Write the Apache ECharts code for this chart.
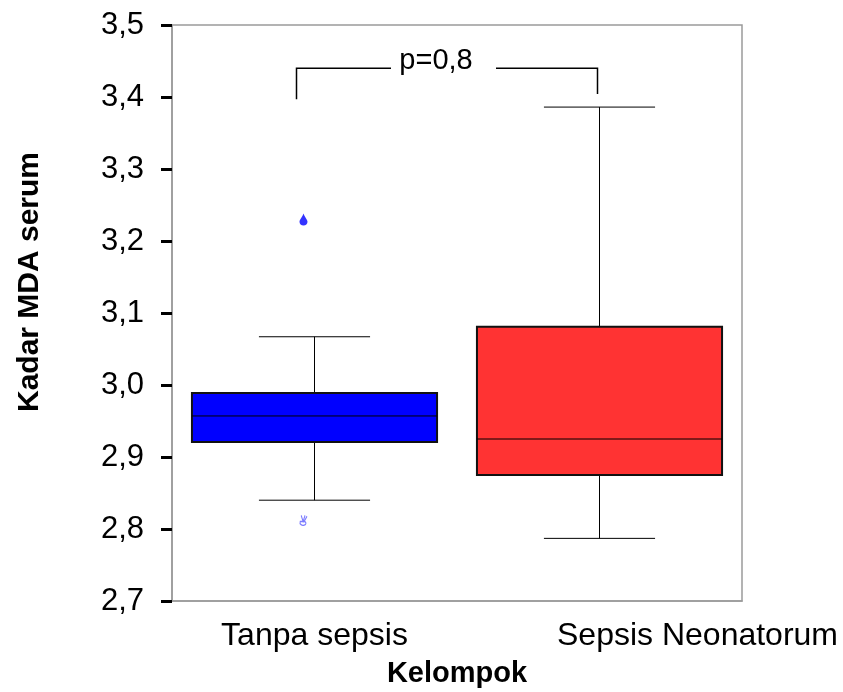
<!DOCTYPE html>
<html lang="id">
<head>
    <meta charset="UTF-8">
    <title>Kadar MDA serum</title>
    <script src="https://cdn.jsdelivr.net/npm/echarts@6/dist/echarts.min.js"></script>
    <style>
        body { margin: 0; background: #fff; }
        #container { width: 843px; height: 692px; }
    </style>
</head>
<body>
<div id="container"></div>

<script type="text/javascript">
    // data
    var categories = ['Tanpa sepsis', 'Sepsis Neonatorum'];
    var whiskerLow = [2.840, 2.787];
    var q1 = [2.921, 2.875];
    var median = [2.957, 2.925];
    var q3 = [2.989, 3.081];
    var whiskerHigh = [3.067, 3.386];
    var boxColors = ['#0000ff', '#ff3333'];
    var outlierHigh = [[0, 3.230]];
    var outlierLow = [[0, 2.812]];
    var pText = 'p=0,8';
    var yTitle = 'Kadar MDA serum';

    var font = 'Liberation Sans, Arial, sans-serif';

    var boxData = [];
    for (var i = 0; i < categories.length; i++) {
        boxData.push([i, whiskerLow[i], q1[i], median[i], q3[i], whiskerHigh[i]]);
    }

    // the second label sits to the right of its tick in the original
    var catItems = [
        { value: categories[0] },
        { value: categories[1], textStyle: { padding: [0, 0, 0, 196] } }
    ];

    function renderBox(params, api) {
        var idx = api.value(0);
        var band = api.size([1, 0])[0];
        var bw = band * 0.86;
        var cw = band * 0.39;
        var pLow = api.coord([idx, api.value(1)]);
        var pQ1 = api.coord([idx, api.value(2)]);
        var pMed = api.coord([idx, api.value(3)]);
        var pQ3 = api.coord([idx, api.value(4)]);
        var pHigh = api.coord([idx, api.value(5)]);
        var cx = pMed[0];
        var thin = { stroke: '#000', lineWidth: 1 };
        return {
            type: 'group',
            children: [
                { type: 'line', shape: { x1: cx, y1: pQ3[1], x2: cx, y2: pHigh[1] }, style: thin },
                { type: 'line', shape: { x1: cx, y1: pQ1[1], x2: cx, y2: pLow[1] }, style: thin },
                { type: 'line', shape: { x1: cx - cw / 2, y1: pHigh[1], x2: cx + cw / 2, y2: pHigh[1] }, style: thin },
                { type: 'line', shape: { x1: cx - cw / 2, y1: pLow[1], x2: cx + cw / 2, y2: pLow[1] }, style: thin },
                { type: 'rect', shape: { x: cx - bw / 2, y: pQ3[1], width: bw, height: pQ1[1] - pQ3[1] },
                  style: { fill: boxColors[idx], stroke: '#111', lineWidth: 2 } },
                { type: 'line', shape: { x1: cx - bw / 2, y1: pMed[1], x2: cx + bw / 2, y2: pMed[1] }, style: thin }
            ]
        };
    }

    var chart = echarts.init(document.getElementById('container'), null, { renderer: 'canvas' });

    var option = {
        backgroundColor: '#fff',
        animation: false,
        grid: {
            left: 172, right: 101, top: 25, bottom: 91,
            outerBoundsMode: 'none',
            containLabel: false,
            show: true, borderColor: '#9a9a9a', borderWidth: 1.5, backgroundColor: 'transparent'
        },
        xAxis: {
            type: 'category',
            data: catItems,
            name: 'Kelompok',
            nameLocation: 'middle',
            nameGap: 58,
            nameTextStyle: { fontFamily: font, fontSize: 29, fontWeight: 'bold', color: '#000' },
            axisLine: { lineStyle: { color: '#9a9a9a', width: 1.5 } },
            axisTick: { alignWithLabel: true, length: 12, lineStyle: { color: '#000', width: 4 } },
            axisLabel: { interval: 0, hideOverlap: false, fontFamily: font, fontSize: 32, color: '#000', margin: 19 },
            splitLine: { show: false }
        },
        yAxis: {
            type: 'value',
            min: 2.7,
            max: 3.5,
            interval: 0.1,
            axisLine: { show: true, lineStyle: { color: '#9a9a9a', width: 1.5 } },
            axisTick: { show: true, length: 11, lineStyle: { color: '#000', width: 3 } },
            axisLabel: {
                fontFamily: font, fontSize: 31, color: '#000', margin: 28,
                formatter: function (v) { return v.toFixed(1).replace('.', ','); }
            },
            splitLine: { show: false }
        },
        series: [
            {
                type: 'custom',
                renderItem: renderBox,
                data: boxData,
                z: 2
            },
            {
                type: 'scatter',
                data: outlierHigh,
                symbol: 'path://M5,0 C6,4 10,8 10,11 C10,14 8,16 5,16 C2,16 0,14 0,11 C0,8 4,4 5,0 Z',
                symbolSize: [8, 12],
                symbolOffset: [-11, 0],
                itemStyle: { color: '#0000ff' },
                z: 3
            },
            {
                type: 'scatter',
                data: outlierLow,
                symbol: 'path://M2,0 L4,7 L6,0 M8,1 L5,7 M1,7 C0,10 3,12 5,11 C8,10 7,7 5,7 Z',
                symbolSize: [7, 10],
                symbolOffset: [-11, 0],
                itemStyle: { color: 'transparent', borderColor: '#5a5aff', borderWidth: 1.2 },
                z: 3
            }
        ]
    };
    chart.setOption(option);

    // significance bracket and y title
    var pA = chart.convertToPixel({ gridIndex: 0 }, [0, 3.44]);
    var pB = chart.convertToPixel({ gridIndex: 0 }, [1, 3.44]);
    var yLine = pA[1];
    var yLeftEnd = chart.convertToPixel({ gridIndex: 0 }, [0, 3.397])[1];
    var yRightEnd = chart.convertToPixel({ gridIndex: 0 }, [1, 3.404])[1];
    var xL = pA[0] - 18;
    var xR = pB[0] - 2;
    var xMid = (xL + xR) / 2 - 10;
    var br = { stroke: '#000', lineWidth: 1.5 };
    chart.setOption({
        graphic: [
            { type: 'polyline', shape: { points: [[xL, yLeftEnd], [xL, yLine], [xMid - 46, yLine]] }, style: br },
            { type: 'polyline', shape: { points: [[xMid + 59, yLine], [xR, yLine], [xR, yRightEnd]] }, style: br },
            { type: 'text', x: xMid - 1, y: yLine - 7,
              style: { text: pText, fontFamily: font, fontSize: 29, fill: '#000', align: 'center', verticalAlign: 'middle' } },
            { type: 'text', x: 30, y: 282, rotation: Math.PI / 2,
              style: { text: yTitle, fontFamily: font, fontSize: 30, fontWeight: 'bold', fill: '#000', align: 'center', verticalAlign: 'middle' } }
        ]
    });
</script>
</body>
</html>
